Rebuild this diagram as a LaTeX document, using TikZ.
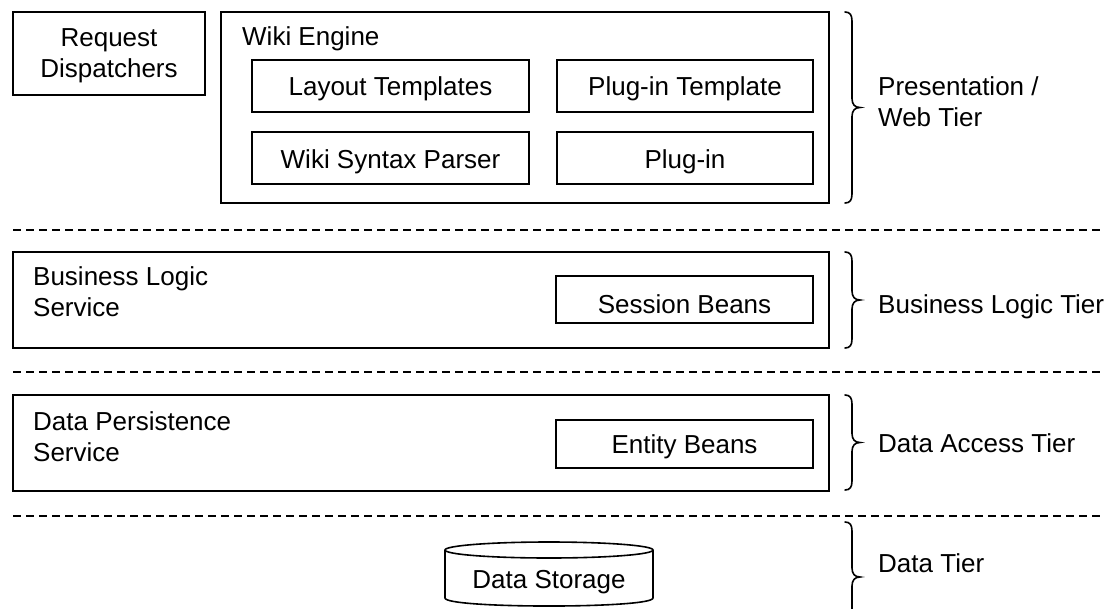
\documentclass[tikz,border=0pt]{standalone}
\usepackage{fontspec}
\setmainfont{Liberation Sans}
\newcommand\tierfont{\fontsize{26}{31}\selectfont}
% right-hand curly brace: #1 = name of its tip, #2 = top y, #3 = bottom y
\newcommand\tierbrace[3]{%
  \draw[bracestyle] (845,#2) .. controls (850,#2) and (852,{#2+3}) .. (852,{#2+9})
    -- (852,{(#2+#3)/2-9}) .. controls (852,{(#2+#3)/2-3}) and (855,{(#2+#3)/2}) .. (860,{(#2+#3)/2})
    .. controls (855,{(#2+#3)/2}) and (852,{(#2+#3)/2+3}) .. (852,{(#2+#3)/2+9})
    -- (852,{#3-9}) .. controls (852,{#3-3}) and (850,#3) .. (845,#3);
  \coordinate (#1) at (860,{(#2+#3)/2});}
\begin{document}
\begin{tikzpicture}[x=1pt,y=-1pt,
  font=\tierfont,
  box/.style={draw, line width=1.8pt, inner sep=0pt},
  bracestyle/.style={line width=1.6pt, line cap=round},
  sep/.style={line width=1.3pt, dash pattern=on 8pt off 5pt},
  lbl/.style={inner sep=0pt, anchor=base west},
  ctr/.style={inner sep=0pt, anchor=base},
  mlbl/.style={inner sep=0pt, anchor=north west, align=left}]
\useasboundingbox (0,0) rectangle (1116,608);
\clip (0,0) rectangle (1116,608);

% presentation tier
\node[box, minimum width=192pt, minimum height=83pt] (req) at (109,53.5) {};
\node[inner sep=0pt, anchor=north, align=center] (reqlbl) at (109,28.6) {Request\\Dispatchers};
\node[box, minimum width=608pt, minimum height=191pt] (wiki) at (525,107.5) {};
\node[lbl] (wikilbl) at (242,45) {Wiki Engine};
\node[box, minimum width=277pt, minimum height=52pt] (layout) at (390.5,86) {};
\node[box, minimum width=256pt, minimum height=52pt] (plugtpl) at (685,86) {};
\node[box, minimum width=277pt, minimum height=52pt] (parser) at (390.5,158) {};
\node[box, minimum width=256pt, minimum height=52pt] (plugin) at (685,158) {};
\node[ctr] (layoutlbl) at (390.5,95.5) {Layout Templates};
\node[ctr] (plugtpllbl) at (685,95.5) {Plug-in Template};
\node[ctr] (parserlbl) at (390.5,168.5) {Wiki Syntax Parser};
\node[ctr] (pluginlbl) at (685,168.5) {Plug-in};

% business tier
\node[box, minimum width=816pt, minimum height=96pt] (bls) at (421,300) {};
\node[mlbl] (blslbl) at (33,266.4) {Business Logic\\Service};
\node[box, minimum width=257pt, minimum height=47pt] (session) at (684.5,299.5) {};
\node[ctr] (sessionlbl) at (684.5,313) {Session Beans};

% data access tier
\node[box, minimum width=816pt, minimum height=96pt] (dps) at (421,443) {};
\node[mlbl] (dpslbl) at (33,411.4) {Data Persistence\\Service};
\node[box, minimum width=257pt, minimum height=48pt] (entity) at (684.5,444) {};
\node[ctr] (entitylbl) at (684.5,453) {Entity Beans};

% data tier: storage cylinder
\node[ctr] (storage) at (549,588) {Data Storage};
\draw[line width=1.6pt] (445,550) -- (445,598)
  .. controls (445,608.7) and (653,608.7) .. (653,598) -- (653,550);
\draw[line width=1.6pt] (549,550) ellipse [x radius=104, y radius=8];

% tier separators
\coordinate (s1a) at (13,230);  \coordinate (s1b) at (1100,230);
\coordinate (s2a) at (13,372);  \coordinate (s2b) at (1100,372);
\coordinate (s3a) at (13,516);  \coordinate (s3b) at (1100,516);
\draw[sep] (s1a) -- (s1b);
\draw[sep] (s2a) -- (s2b);
\draw[sep] (s3a) -- (s3b);

% tier braces and names
\tierbrace{b1}{12}{203}
\tierbrace{b2}{252}{348}
\tierbrace{b3}{395}{490}
\tierbrace{b4}{522}{632}
\node[mlbl] (t1) at (878,76.4) {Presentation /\\Web Tier};
\node[lbl] (t2) at (878,313) {Business Logic Tier};
\node[lbl] (t3) at (878,452) {Data Access Tier};
\node[lbl] (t4) at (878,572) {Data Tier};
\end{tikzpicture}
\end{document}
